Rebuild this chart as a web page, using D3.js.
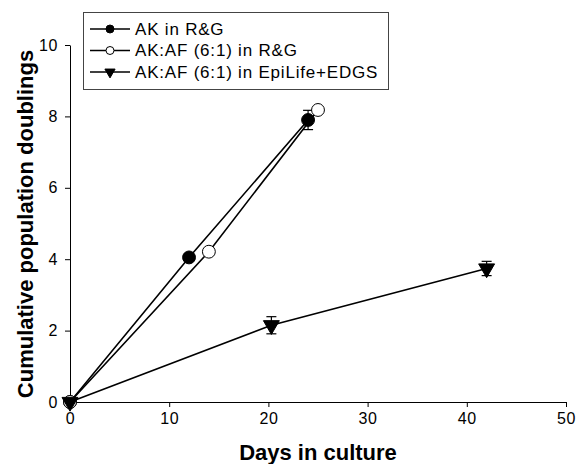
<!DOCTYPE html>
<html>
<head>
<meta charset="utf-8">
<script src="https://cdn.jsdelivr.net/npm/d3@7"></script>
<style>
  body { margin: 0; background: #fff; }
  text { font-family: Arial, "Liberation Sans", sans-serif; }
</style>
</head>
<body>
<div id="chart"></div>
<script>
// data
const akDays = [0, 12, 24];
const akDoublings = [0, 4.05, 7.9];
const akErr = [0, 0, 0.27];

const mixDays = [0, 14, 25];
const mixDoublings = [0, 4.21, 8.18];
const mixErr = [0, 0, 0];

const epiDays = [0, 20.3, 42];
const epiDoublings = [0, 2.15, 3.74];
const epiErr = [0, 0.24, 0.2];

const xTicks = [0, 10, 20, 30, 40, 50];
const yTicks = [0, 2, 4, 6, 8, 10];
const legendLabels = ["AK in R&G", "AK:AF (6:1) in R&G", "AK:AF (6:1) in EpiLife+EDGS"];

const W = 586, H = 464;
const margin = { top: 45, right: 20, bottom: 62, left: 70 };
const width = 566 - margin.left;
const height = 402 - margin.top;

const svg = d3.select("#chart")
  .append("svg")
  .attr("width", W)
  .attr("height", H);

const g = svg.append("g")
  .attr("transform", `translate(${margin.left},${margin.top})`);

const x = d3.scaleLinear().domain([0, 50]).range([0, width]);
const y = d3.scaleLinear().domain([0, 10]).range([height, 0]);

// axes
const xAxis = g.append("g")
  .attr("transform", `translate(0,${height})`)
  .call(d3.axisBottom(x).tickValues(xTicks).tickSize(5).tickSizeOuter(0).tickPadding(6));
const yAxis = g.append("g")
  .call(d3.axisLeft(y).tickValues(yTicks).tickSize(5).tickSizeOuter(0).tickPadding(7));

[xAxis, yAxis].forEach((a) => {
  a.selectAll("path, line").attr("stroke", "#000").attr("stroke-width", 1);
  a.selectAll("text")
    .attr("fill", "#000")
    .style("font-size", "16px")
    .style("letter-spacing", "0.6px");
});

// axis titles
svg.append("text")
  .attr("x", margin.left + width / 2)
  .attr("y", 460)
  .attr("text-anchor", "middle")
  .style("font-size", "22px")
  .style("font-weight", "bold")
  .text("Days in culture");

svg.append("text")
  .attr("transform", "translate(33,224) rotate(-90)")
  .attr("text-anchor", "middle")
  .style("font-size", "22px")
  .style("font-weight", "bold")
  .text("Cumulative population doublings");

const series = [
  { days: akDays, vals: akDoublings, err: akErr, shape: "circle", fill: "#000" },
  { days: mixDays, vals: mixDoublings, err: mixErr, shape: "circle", fill: "#fff" },
  { days: epiDays, vals: epiDoublings, err: epiErr, shape: "triangle", fill: "#000" }
];

const line = d3.line().x((d) => x(d[0])).y((d) => y(d[1]));
const circleSym = d3.symbol().type(d3.symbolCircle).size(130);
const triSym = d3.symbol().type(d3.symbolTriangle).size(110);

series.forEach((s) => {
  const pts = s.days.map((d, i) => [d, s.vals[i], s.err[i]]);

  g.append("path")
    .datum(pts)
    .attr("d", line)
    .attr("fill", "none")
    .attr("stroke", "#000")
    .attr("stroke-width", 1.6);

  // error bars
  const eb = g.selectAll(null)
    .data(pts.filter((d) => d[2] > 0))
    .join("g")
    .attr("stroke", "#000")
    .attr("stroke-width", 1.2);
  eb.append("line")
    .attr("x1", (d) => x(d[0])).attr("x2", (d) => x(d[0]))
    .attr("y1", (d) => y(d[1] + d[2])).attr("y2", (d) => y(d[1] - d[2]));
  eb.append("line")
    .attr("x1", (d) => x(d[0]) - 5).attr("x2", (d) => x(d[0]) + 5)
    .attr("y1", (d) => y(d[1] + d[2])).attr("y2", (d) => y(d[1] + d[2]));
  eb.append("line")
    .attr("x1", (d) => x(d[0]) - 5).attr("x2", (d) => x(d[0]) + 5)
    .attr("y1", (d) => y(d[1] - d[2])).attr("y2", (d) => y(d[1] - d[2]));
});

series.forEach((s) => {
  const pts = s.days.map((d, i) => [d, s.vals[i]]);
  g.selectAll(null)
    .data(pts)
    .join("path")
    .attr("transform", (d) =>
      s.shape === "triangle"
        ? `translate(${x(d[0])},${y(d[1])}) rotate(180)`
        : `translate(${x(d[0])},${y(d[1])})`)
    .attr("d", s.shape === "triangle" ? triSym : circleSym)
    .attr("fill", s.fill)
    .attr("stroke", "#000")
    .attr("stroke-width", 1);
});

// legend
const legend = svg.append("g").attr("transform", "translate(83,12)");
legend.append("rect")
  .attr("x", 0.5).attr("y", 0.5)
  .attr("width", 305).attr("height", 77)
  .attr("fill", "#fff")
  .attr("stroke", "#444")
  .attr("stroke-width", 1);

const rows = legend.selectAll(".row")
  .data(series)
  .join("g")
  .attr("class", "row")
  .attr("transform", (d, i) => `translate(0,${17 + i * 21.5})`);

rows.append("line")
  .attr("x1", 7).attr("x2", 47)
  .attr("stroke", "#000").attr("stroke-width", 1.4);
rows.append("path")
  .attr("transform", (d) => d.shape === "triangle" ? "translate(27,0) rotate(180)" : "translate(27,0)")
  .attr("d", (d) => d.shape === "triangle"
    ? d3.symbol().type(d3.symbolTriangle).size(45)()
    : d3.symbol().type(d3.symbolCircle).size(50)())
  .attr("fill", (d) => d.fill)
  .attr("stroke", "#000")
  .attr("stroke-width", 1);
rows.append("text")
  .attr("x", 52)
  .attr("dy", "0.35em")
  .style("font-size", "17px")
  .style("letter-spacing", "0.8px")
  .text((d, i) => legendLabels[i]);
</script>
</body>
</html>
